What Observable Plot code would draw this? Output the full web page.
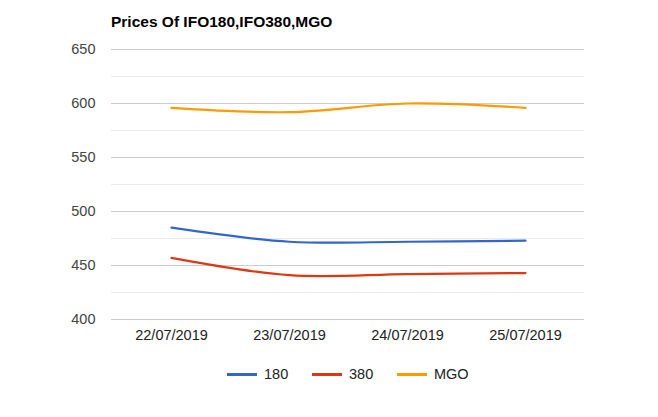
<!DOCTYPE html>
<html><head><meta charset="utf-8">
<script src="https://cdn.jsdelivr.net/npm/d3@7"></script>
<script src="https://cdn.jsdelivr.net/npm/@observablehq/plot@0.6"></script>
<style>
body{margin:0;background:#fff;font-family:"Liberation Sans",Arial,sans-serif;}
#wrap{position:relative;width:658px;height:417px;}
#title{position:absolute;left:111px;top:13px;font-size:15.5px;font-weight:bold;color:#000;line-height:17px;}
#legend{position:absolute;top:365px;left:0;width:658px;font-size:14.5px;color:#222;}
.item{position:absolute;top:0;height:18px;line-height:18px;}
.sw{position:absolute;top:8px;width:30px;height:3px;}
.lab{position:absolute;left:37px;top:0;white-space:nowrap;}
</style></head>
<body><div id="wrap"><div id="title">Prices Of IFO180,IFO380,MGO</div><div id="legend"></div></div>
<script>
const dates = ["22/07/2019","23/07/2019","24/07/2019","25/07/2019"];
const s180 = [485, 472, 472, 473];
const s380 = [457, 441, 442, 443];
const sMGO = [596, 592, 600, 596];
const seriesNames = ["180","380","MGO"];
const seriesColors = ["#3366cc","#dc3912","#ff9900"];
const majorTicks = [400,450,500,550,600,650];
const minorTicks = [425,475,525,575,625];

const allSeries = [s180, s380, sMGO];
const data = [];
allSeries.forEach((arr, i) => arr.forEach((v, j) => data.push({date: dates[j], value: v, series: seriesNames[i]})));

const chart = Plot.plot({
  width: 658, height: 417,
  marginTop: 49, marginBottom: 98, marginLeft: 111, marginRight: 74,
  style: {fontFamily: '"Liberation Sans", Arial, sans-serif', fontSize: "14.5px", background: "transparent"},
  x: {type: "point", domain: dates, padding: 0.5, label: null},
  y: {domain: [400, 650], label: null},
  color: {domain: seriesNames, range: seriesColors},
  marks: [
    Plot.ruleY(minorTicks, {stroke: "#ebebeb", strokeWidth: 1}),
    Plot.ruleY(majorTicks, {stroke: "#cccccc", strokeWidth: 1}),
    Plot.axisY(majorTicks, {tickSize: 0, tickPadding: 16, fill: "#444", fontSize: 14.5, label: null}),
    Plot.axisX({tickSize: 0, tickPadding: 10, fill: "#222", fontSize: 14.5, label: null}),
    Plot.line(data, {x: "date", y: "value", z: "series", stroke: "series", strokeWidth: 2.2, curve: "catmull-rom"})
  ]
});
document.getElementById("wrap").prepend(chart);
chart.style.position = "absolute"; chart.style.left = "0"; chart.style.top = "0";

const legendX = [227, 312, 397];
const leg = document.getElementById("legend");
seriesNames.forEach((n, i) => {
  const it = document.createElement("div");
  it.className = "item"; it.style.left = legendX[i] + "px";
  it.innerHTML = `<div class="sw" style="background:${seriesColors[i]}"></div><div class="lab">${n}</div>`;
  leg.appendChild(it);
});
</script></body></html>
